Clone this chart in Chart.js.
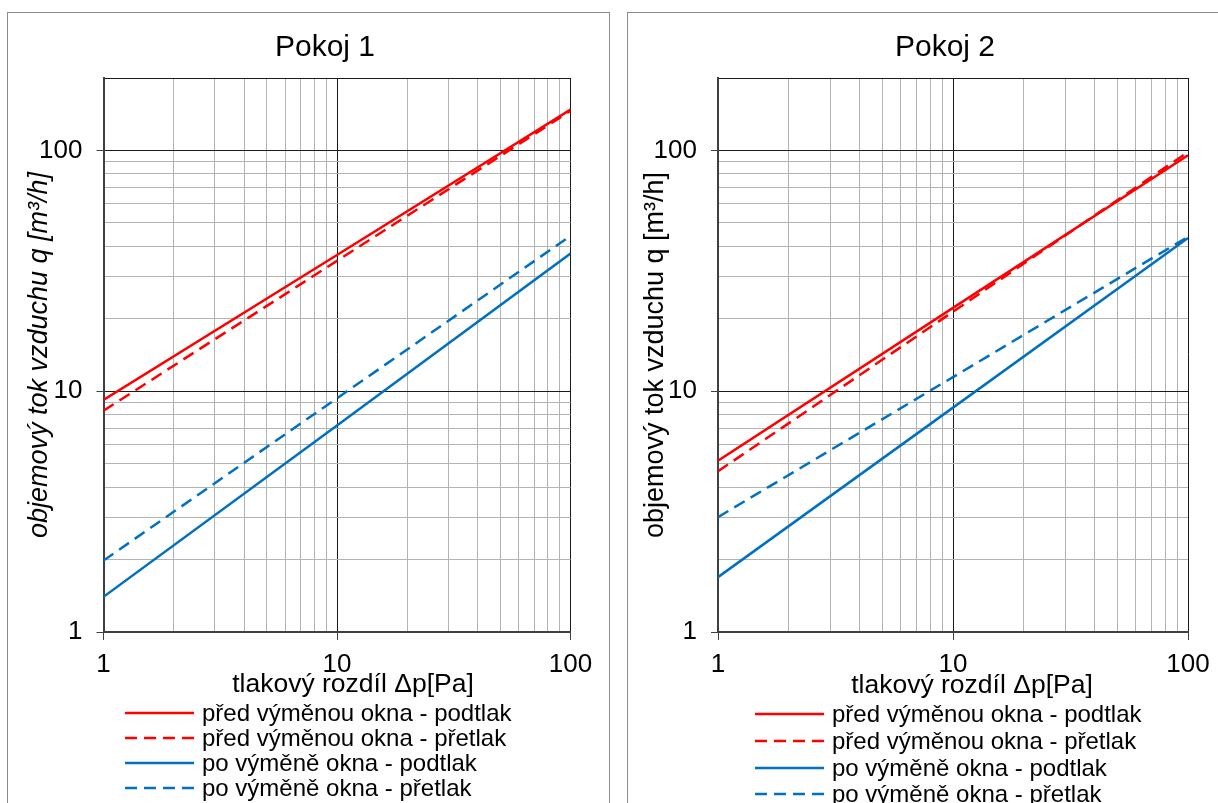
<!DOCTYPE html>
<html>
<head>
<meta charset="utf-8">
<script src="https://cdn.jsdelivr.net/npm/chart.js@4.4.1/dist/chart.umd.min.js"></script>
<style>
  html, body { margin: 0; padding: 0; background: #fff; }
  body { width: 1218px; height: 803px; overflow: hidden; position: relative; }
  .panel { position: absolute; top: 12px; height: 800px; border: 1px solid #8c8c8c; box-sizing: border-box; }
  #panel1 { left: 7px; width: 603px; }
  #panel2 { left: 627px; width: 600px; }
  canvas { position: absolute; top: 13px; }
  #chart1 { left: 8px; }
  #chart2 { left: 628px; }
</style>
</head>
<body>
<div class="panel" id="panel1"></div>
<div class="panel" id="panel2"></div>
<canvas id="chart1" width="634" height="790"></canvas>
<canvas id="chart2" width="634" height="790"></canvas>
<script>
// === DATA ===
const pressure = [1, 10, 100]; // tlakový rozdíl Δp [Pa]
const xTickLabels = [1, 10, 100];
const yTickLabels = [1, 10, 100];
const yMax = 200;

const seriesLabels = [
  "před výměnou okna - podtlak",
  "před výměnou okna - přetlak",
  "po výměně okna - podtlak",
  "po výměně okna - přetlak",
];

// Pokoj 1 - objemový tok q [m3/h]
const p1PredPodtlak = [9.2, 36.8, 148];
const p1PredPretlak = [8.3, 34.8, 146];
const p1PoPodtlak = [1.4, 7.2, 37.3];
const p1PoPretlak = [1.98, 9.35, 44.2];

// Pokoj 2 - objemový tok q [m3/h]
const p2PredPodtlak = [5.15, 22.2, 95.5];
const p2PredPretlak = [4.65, 21.4, 98.5];
const p2PoPodtlak = [1.69, 8.55, 43.3];
const p2PoPretlak = [3.0, 11.45, 43.8];

// === STYL ===
const FONT = 'Arial, "Liberation Sans", sans-serif';
const RED = "#ff0000";
const BLUE = "#0070c0";
const DASH = [12, 7];

Chart.defaults.font.family = FONT;
Chart.defaults.color = "#000";

// mřížka po dekádách: 1..9, 10..90, 100
function decadeTicks(top) {
  const out = [];
  for (let d = 1; d < top; d *= 10) {
    for (let k = 1; k < 10; k++) out.push(k * d);
  }
  out.push(top);
  return out;
}

function toPoints(values) {
  return pressure.map((p, i) => ({ x: p, y: values[i] }));
}

// osa x titulek + legenda pod grafem
const panelText = {
  id: "panelText",
  afterDraw(chart, args, opts) {
    const ctx = chart.ctx;
    ctx.save();
    ctx.fillStyle = "#000";
    ctx.font = "26.5px " + FONT;
    ctx.textAlign = "center";
    ctx.textBaseline = "alphabetic";
    ctx.fillText(opts.xTitle, opts.xTitleX, opts.xTitleY);

    ctx.font = "24px " + FONT;
    ctx.textAlign = "left";
    ctx.textBaseline = "middle";
    chart.data.datasets.forEach(function (ds, i) {
      const y = opts.legendY[i];
      ctx.strokeStyle = ds.borderColor;
      ctx.lineWidth = ds.borderWidth;
      ctx.setLineDash(ds.borderDash || []);
      ctx.beginPath();
      ctx.moveTo(opts.legendX, y);
      ctx.lineTo(opts.legendX + 69, y);
      ctx.stroke();
      ctx.setLineDash([]);
      ctx.fillText(ds.label, opts.legendX + 77, y + 1);
    });
    ctx.restore();
  },
};

function makeChart(canvasId, cfg) {
  const isMajorX = (v) => xTickLabels.includes(v);
  const isMajorY = (v) => yTickLabels.includes(v) || v === yMax;

  return new Chart(document.getElementById(canvasId), {
    type: "line",
    data: {
      datasets: [
        { label: seriesLabels[0], data: toPoints(cfg.series[0]), borderColor: RED, borderWidth: 2.5 },
        { label: seriesLabels[1], data: toPoints(cfg.series[1]), borderColor: RED, borderWidth: 2.5, borderDash: DASH },
        { label: seriesLabels[2], data: toPoints(cfg.series[2]), borderColor: BLUE, borderWidth: 2.5 },
        { label: seriesLabels[3], data: toPoints(cfg.series[3]), borderColor: BLUE, borderWidth: 2.5, borderDash: DASH },
      ].map((d) => Object.assign(d, { pointRadius: 0, fill: false, tension: 0 })),
    },
    options: {
      responsive: false,
      animation: false,
      devicePixelRatio: 1,
      layout: { padding: 0 },
      plugins: {
        legend: { display: false },
        tooltip: { enabled: false },
        title: {
          display: true,
          text: cfg.title,
          color: "#000",
          font: { size: 30, weight: "normal" },
          padding: { top: 17, bottom: 12 },
        },
        panelText: cfg.text,
      },
      scales: {
        x: {
          type: "logarithmic",
          min: 1,
          max: 100,
          afterBuildTicks: (scale) => {
            scale.ticks = decadeTicks(100).map((v) => ({ value: v }));
          },
          afterFit: (scale) => {
            scale.height = 171;
            scale.paddingRight = cfg.padRight;
          },
          ticks: {
            autoSkip: false,
            maxRotation: 0,
            padding: 9,
            font: { size: 26 },
            color: "#000",
            callback: (v) => (xTickLabels.includes(v) ? String(v) : ""),
          },
          grid: {
            color: (c) => (isMajorX(c.tick.value) ? "#1a1a1a" : "#b3b3b3"),
            tickColor: (c) => (isMajorX(c.tick.value) ? "#404040" : "rgba(0,0,0,0)"),
            tickLength: 8,
            lineWidth: 1,
          },
          border: { display: true, color: "#404040", width: 2 },
        },
        y: {
          type: "logarithmic",
          min: 1,
          max: yMax,
          afterBuildTicks: (scale) => {
            scale.ticks = decadeTicks(100).concat([yMax]).map((v) => ({ value: v }));
          },
          afterFit: (scale) => {
            scale.width = cfg.yWidth;
          },
          ticks: {
            autoSkip: false,
            padding: 14,
            font: { size: 26 },
            color: "#000",
            callback: (v) => (yTickLabels.includes(v) ? String(v) : ""),
          },
          grid: {
            color: (c) => (isMajorY(c.tick.value) ? "#1a1a1a" : "#b3b3b3"),
            tickColor: (c) => (yTickLabels.includes(c.tick.value) ? "#404040" : "rgba(0,0,0,0)"),
            tickLength: 7,
            lineWidth: 1,
          },
          border: { display: true, color: "#404040", width: 2 },
          title: {
            display: true,
            text: "objemový tok vzduchu q [m³/h]",
            color: "#000",
            font: { size: 27, style: cfg.yItalic ? "italic" : "normal" },
            padding: { top: cfg.yTitlePad, bottom: 0 },
          },
        },
      },
    },
    plugins: [panelText],
  });
}

makeChart("chart1", {
  title: "Pokoj 1",
  series: [p1PredPodtlak, p1PredPretlak, p1PoPodtlak, p1PoPretlak],
  yWidth: 95.5,
  padRight: 71.5,
  yItalic: true,
  yTitlePad: 15,
  text: {
    xTitle: "tlakový rozdíl Δp[Pa]",
    xTitleX: 345,
    xTitleY: 679,
    legendX: 117,
    legendY: [700, 725, 750, 775],
  },
});

makeChart("chart2", {
  title: "Pokoj 2",
  series: [p2PredPodtlak, p2PredPretlak, p2PoPodtlak, p2PoPretlak],
  yWidth: 90,
  padRight: 74,
  yItalic: false,
  yTitlePad: 11,
  text: {
    xTitle: "tlakový rozdíl Δp[Pa]",
    xTitleX: 344,
    xTitleY: 680,
    legendX: 127,
    legendY: [701, 728, 755, 781],
  },
});
</script>
</body>
</html>
